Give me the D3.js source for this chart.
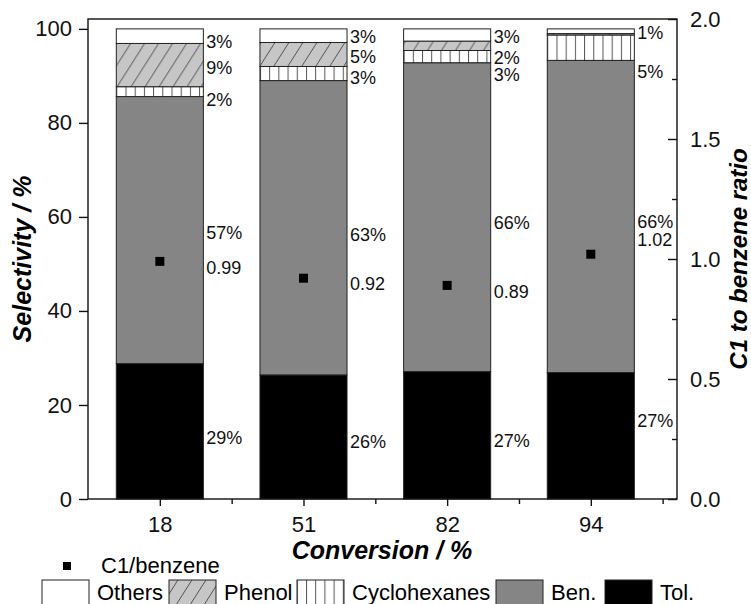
<!DOCTYPE html>
<html><head><meta charset="utf-8">
<script src="https://cdn.jsdelivr.net/npm/d3@7"></script>
<style>
body{margin:0;background:#fff;}
svg{display:block;font-family:"Liberation Sans",Arial,sans-serif;}
</style></head>
<body><svg id="c" width="751" height="604"></svg>
<script>
// ---- data ----
const categories = ["18", "51", "82", "94"];
const tol     = [28.8, 26.4, 27.1, 26.9];
const ben     = [56.8, 62.6, 65.7, 66.4];
const cyclo   = [2.1, 3.0, 2.6, 5.4];
const phenol  = [9.2, 5.1, 2.0, 0.3];
const others  = [3.1, 2.9, 2.6, 1.0];
const ratio   = [0.99, 0.92, 0.89, 1.02];
const tolLabels    = ["29%", "26%", "27%", "27%"];
const benLabels    = ["57%", "63%", "66%", "66%"];
const cycloLabels  = ["2%", "3%", "3%", "5%"];
const phenolLabels = ["9%", "5%", "2%", ""];
const otherLabels  = ["3%", "3%", "3%", "1%"];
const ratioLabels  = ["0.99", "0.92", "0.89", "1.02"];
const leftTicks  = [0, 20, 40, 60, 80, 100];
const rightTicks = [0, 0.5, 1.0, 1.5, 2.0];
const rightMinor = [0.25, 0.75, 1.25, 1.75];
const seriesNames = ["Others", "Phenol", "Cyclohexanes", "Ben.", "Tol."];

// ---- layout (label nudges in px, not data) ----
const nudge = {
  tol: [7, 5, 6, -15], ben: [3, 7, 6, 6], cyclo: [8, 4, 18, 24],
  phenol: [3, 3, 12, 0], others: [6, 1, 2, 2], ratio: [7, 6, 7, -14]
};

const svg = d3.select("#c");
const L = 88, R = 677, T = 19, B = 499;
const x = d3.scaleLinear().domain([-0.5, 3.6]).range([L, R]);
const y = d3.scaleLinear().domain([0, 102.1]).range([B, T]);
const yR = d3.scaleLinear().domain([0, 2]).range([B, T]);
const bw = (x(1) - x(0)) * 0.606;

const rows = categories.map((c, i) => ({i, tol: tol[i], ben: ben[i], cyclo: cyclo[i], phenol: phenol[i], others: others[i]}));
const keys = ["tol", "ben", "cyclo", "phenol", "others"];
const stack = d3.stack().keys(keys)(rows);

// patterns
const defs = svg.append("defs");
function hatch(id, x0) {
  const p = defs.append("pattern").attr("id", id).attr("patternUnits", "userSpaceOnUse")
    .attr("x", x0).attr("y", 0).attr("width", 14).attr("height", 22);
  p.append("rect").attr("width", 14).attr("height", 22).attr("fill", "#c6c6c6");
  p.append("path").attr("d", "M0,22 L14,0 M-7,11 L0,0 M14,22 L21,11").attr("stroke", "#444").attr("stroke-width", 0.9);
}
function vlines(id, x0) {
  const p = defs.append("pattern").attr("id", id).attr("patternUnits", "userSpaceOnUse")
    .attr("x", x0).attr("y", 0).attr("width", 9.2).attr("height", 10);
  p.append("rect").attr("width", 9.2).attr("height", 10).attr("fill", "#fff");
  p.append("line").attr("x1", 0.5).attr("x2", 0.5).attr("y1", 0).attr("y2", 10).attr("stroke", "#555").attr("stroke-width", 1);
}
categories.forEach((c, i) => {
  hatch("ph" + i, x(i) - bw / 2);
  vlines("cy" + i, x(i) - bw / 2 + 9.2);
});
hatch("phL", 169); vlines("cyL", 297 + 9);

const fills = {
  tol: () => "#000", ben: () => "#858585",
  cyclo: i => `url(#cy${i})`, phenol: i => `url(#ph${i})`, others: () => "#fff"
};

// bars
stack.forEach(s => {
  svg.append("g").selectAll("rect").data(s).join("rect")
    .attr("x", d => x(d.data.i) - bw / 2)
    .attr("width", bw)
    .attr("y", d => y(d[1]))
    .attr("height", d => y(d[0]) - y(d[1]))
    .attr("fill", d => fills[s.key](d.data.i))
    .attr("stroke", "#222").attr("stroke-width", 1);
});

// segment labels
const labelText = {tol: tolLabels, ben: benLabels, cyclo: cycloLabels, phenol: phenolLabels, others: otherLabels};
stack.forEach(s => {
  svg.append("g").selectAll("text").data(s).join("text")
    .attr("x", d => x(d.data.i) + bw / 2 + 3)
    .attr("y", d => y((d[0] + d[1]) / 2) + nudge[s.key][d.data.i])
    .attr("dominant-baseline", "central")
    .attr("font-size", 18).attr("fill", "#111")
    .text(d => labelText[s.key][d.data.i]);
});

// ratio markers
svg.append("g").selectAll("rect").data(ratio).join("rect")
  .attr("x", (d, i) => x(i) - 4.5).attr("y", d => yR(d) - 4.5)
  .attr("width", 9).attr("height", 9).attr("fill", "#000");
svg.append("g").selectAll("text").data(ratio).join("text")
  .attr("x", (d, i) => x(i) + bw / 2 + 3)
  .attr("y", (d, i) => yR(d) + nudge.ratio[i])
  .attr("dominant-baseline", "central")
  .attr("font-size", 18).attr("fill", "#111")
  .text((d, i) => ratioLabels[i]);

// frame
svg.append("rect").attr("x", L).attr("y", T).attr("width", R - L).attr("height", B - T)
  .attr("fill", "none").attr("stroke", "#111").attr("stroke-width", 1.4);

// axes
const styleAxis = g => {
  g.select(".domain").remove();
  g.selectAll("line").attr("stroke", "#111").attr("stroke-width", 1.4);
  g.selectAll("text").attr("font-size", 22).attr("fill", "#111").attr("font-family", "Liberation Sans, Arial, sans-serif");
};
svg.append("g").attr("transform", `translate(${L},0)`)
  .call(d3.axisLeft(y).tickValues(leftTicks).tickSize(9).tickPadding(7).tickFormat(d3.format("d")))
  .call(styleAxis);
svg.append("g").attr("transform", `translate(0,${B})`)
  .call(d3.axisBottom(x).tickValues([0, 1, 2, 3]).tickSize(7).tickPadding(10).tickFormat(i => categories[i]))
  .call(styleAxis);
svg.append("g").attr("transform", `translate(0,${B})`)
  .call(d3.axisBottom(x).tickValues([0.5, 1.5, 2.5, 3.5]).tickSize(5).tickFormat(""))
  .call(styleAxis);
svg.append("g").attr("transform", `translate(${R},0)`)
  .call(d3.axisRight(yR).tickValues(rightTicks).tickSize(-9).tickPadding(13).tickFormat(d3.format(".1f")))
  .call(styleAxis);
svg.append("g").attr("transform", `translate(${R},0)`)
  .call(d3.axisRight(yR).tickValues(rightMinor).tickSize(-5).tickFormat(""))
  .call(styleAxis);

// axis titles
svg.append("text").attr("transform", "translate(31,259) rotate(-90)")
  .attr("text-anchor", "middle").attr("font-size", 25).attr("font-weight", "bold").attr("font-style", "italic")
  .text("Selectivity / %");
svg.append("text").attr("transform", "translate(747,259) rotate(-90)")
  .attr("text-anchor", "middle").attr("font-size", 24).attr("font-weight", "bold").attr("font-style", "italic")
  .text("C1 to benzene ratio");
svg.append("text").attr("x", 382).attr("y", 559)
  .attr("text-anchor", "middle").attr("font-size", 25).attr("font-weight", "bold").attr("font-style", "italic")
  .text("Conversion / %");

// legend
svg.append("rect").attr("x", 63).attr("y", 562).attr("width", 8).attr("height", 8).attr("fill", "#000");
svg.append("text").attr("x", 101).attr("y", 573).attr("font-size", 22).text("C1/benzene");
const legX = [42, 169, 297, 496, 605];
const legFill = ["#fff", "url(#phL)", "url(#cyL)", "#858585", "#000"];
seriesNames.forEach((n, i) => {
  svg.append("rect").attr("x", legX[i]).attr("y", 580).attr("width", 47).attr("height", 28)
    .attr("fill", legFill[i]).attr("stroke", "#222").attr("stroke-width", 1);
  svg.append("text").attr("x", legX[i] + 55).attr("y", 600).attr("font-size", 22).text(n);
});
</script>
</body></html>
